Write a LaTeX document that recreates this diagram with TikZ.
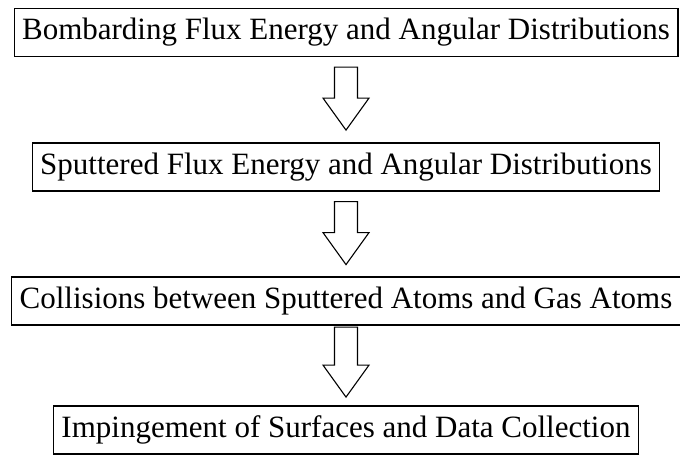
\documentclass[tikz,border=0pt]{standalone}
\usepackage{fontspec}
\setmainfont{Liberation Serif}
\usetikzlibrary{calc}
\begin{document}
\begin{tikzpicture}[x=1pt,y=1pt,
  box/.style={draw, line width=1.2pt, inner xsep=8pt, minimum height=48pt,
    font=\fontsize{31}{37}\selectfont},
  barrow/.style={draw, line width=1.1pt, line join=miter}]
\useasboundingbox (0,0) rectangle (680,456);
\node[box] (b1) at (346,423.5) {Bombarding Flux Energy and Angular Distributions};
\node[box] (b2) at (346,289) {Sputtered Flux Energy and Angular Distributions};
\node[box] (b3) at (346,155) {Collisions between Sputtered Atoms and Gas Atoms};
\node[box] (b4) at (346,26) {Impingement of Surfaces and Data Collection};
% block arrows
\draw[barrow] ($(b1.south)+(-11.5,-10)$) -- ++(0,-31) -- ++(-11.5,0) -- ++(23,-32)
  -- ++(23,32) -- ++(-11.5,0) -- ++(0,31) -- cycle;
\draw[barrow] ($(b2.south)+(-11.5,-10)$) -- ++(0,-31) -- ++(-11.5,0) -- ++(23,-32)
  -- ++(23,32) -- ++(-11.5,0) -- ++(0,31) -- cycle;
\draw[barrow] ($(b3.south)+(-11.5,-1.5)$) -- ++(0,-38) -- ++(-11.5,0) -- ++(23,-32)
  -- ++(23,32) -- ++(-11.5,0) -- ++(0,38) -- cycle;
\end{tikzpicture}
\end{document}
